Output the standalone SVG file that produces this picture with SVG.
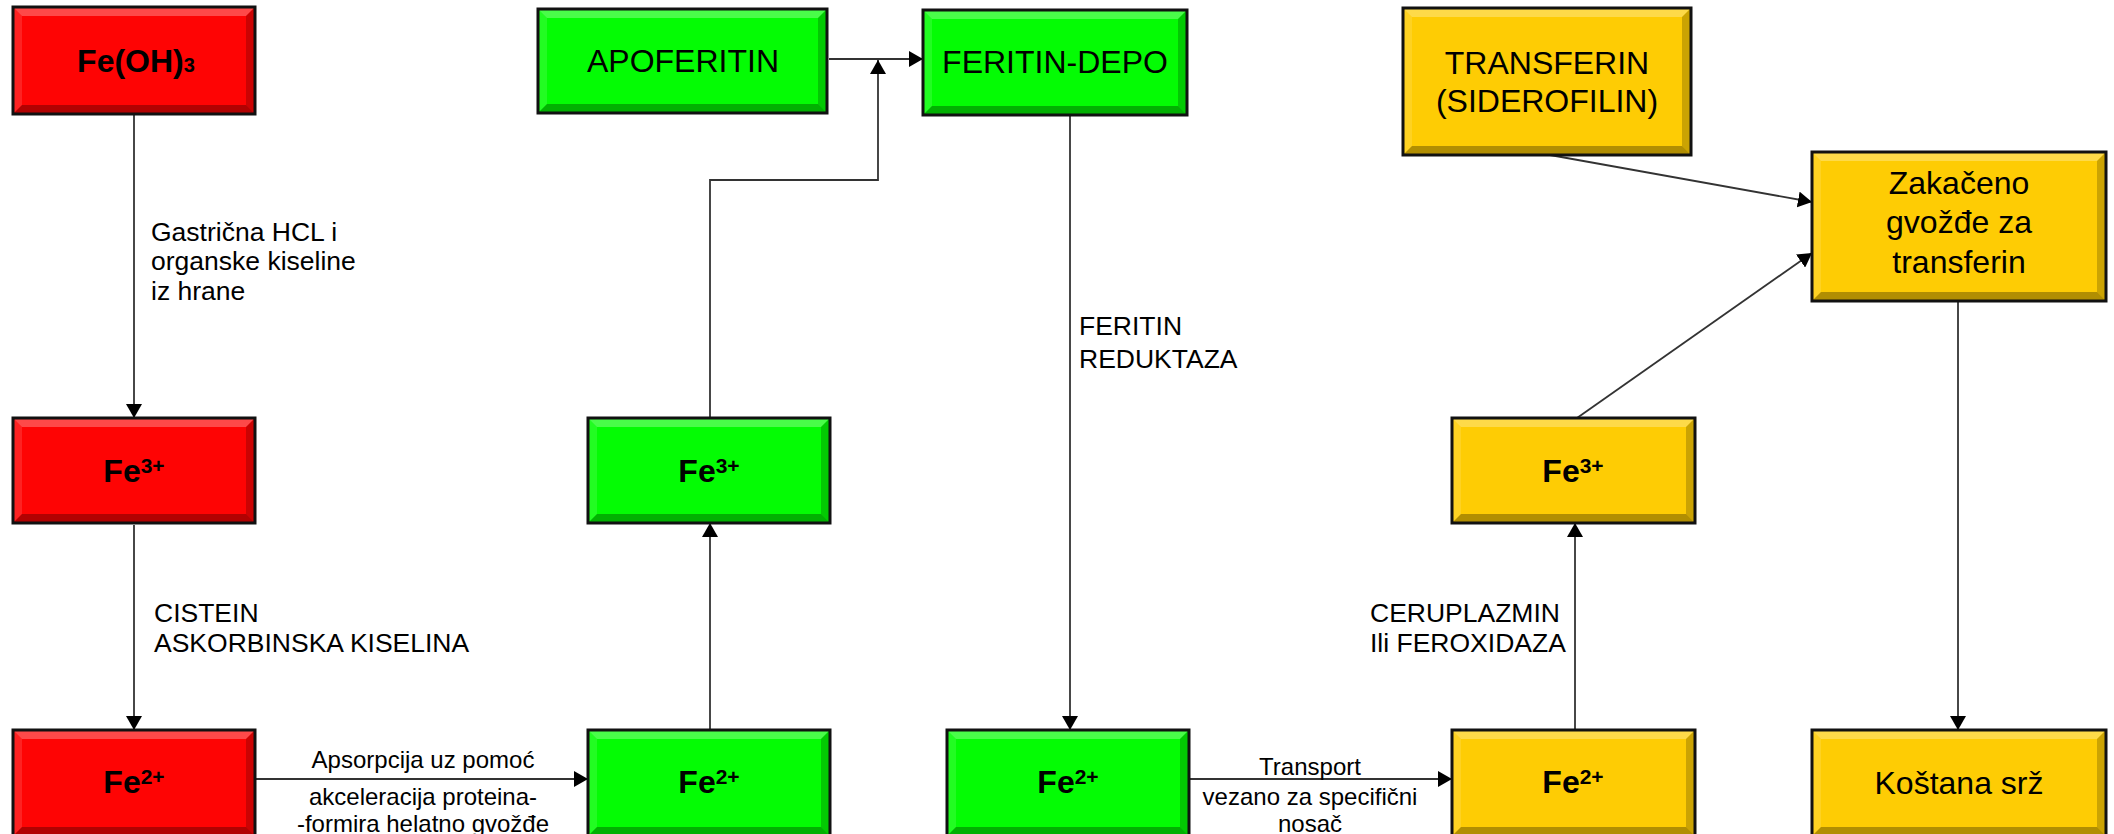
<svg xmlns="http://www.w3.org/2000/svg" width="2114" height="834" viewBox="0 0 2114 834">
<style>
text{font-family:"Liberation Sans",Arial,sans-serif;fill:#000}
.r{fill:#FE0404}.g{fill:#04FC04}.y{fill:#FECC04}
.bt{fill:#fff;fill-opacity:.28}.bl{fill:#fff;fill-opacity:.12}.bb{fill:#000;fill-opacity:.3}.br{fill:#000;fill-opacity:.2}
.edge{fill:none;stroke:#111;stroke-width:3}
.big{font-size:32px;text-anchor:middle}
.fe{font-size:32px;font-weight:bold;text-anchor:middle}
.lab{font-size:26.5px}
.elab{font-size:24px;text-anchor:middle}
.ca{fill:none;stroke:#333;stroke-width:1.8;marker-end:url(#ah)}
</style>
<defs>
<marker id="ah" viewBox="0 0 14 16" markerWidth="14" markerHeight="16" refX="14" refY="8" orient="auto" markerUnits="userSpaceOnUse"><path d="M0,0 L14,8 L0,16 z" fill="#000"/></marker>
</defs>
<rect width="2114" height="834" fill="#fff"/>

<g id="connectors">
<line class="ca" x1="134" y1="114" x2="134" y2="418"/>
<line class="ca" x1="134" y1="525" x2="134" y2="730"/>
<line class="ca" x1="256" y1="779" x2="588" y2="779"/>
<line class="ca" x1="710" y1="730" x2="710" y2="523"/>
<polyline class="ca" points="710,418 710,180 878,180 878,60"/>
<line class="ca" x1="829" y1="59" x2="923" y2="59"/>
<line class="ca" x1="1070" y1="115" x2="1070" y2="730"/>
<line class="ca" x1="1189" y1="779" x2="1452" y2="779"/>
<line class="ca" x1="1575" y1="730" x2="1575" y2="523"/>
<line class="ca" x1="1577" y1="418" x2="1812" y2="253"/>
<line class="ca" x1="1550" y1="155" x2="1812" y2="202"/>
<line class="ca" x1="1958" y1="301" x2="1958" y2="730"/>
</g>

<g id="edge-labels">
<text class="lab"><tspan x="151" y="241">Gastrična HCL i</tspan><tspan x="151" y="270">organske kiseline</tspan><tspan x="151" y="300">iz hrane</tspan></text>
<text class="lab"><tspan x="154" y="622">CISTEIN</tspan><tspan x="154" y="652">ASKORBINSKA KISELINA</tspan></text>
<text class="lab"><tspan x="1079" y="335">FERITIN</tspan><tspan x="1079" y="368">REDUKTAZA</tspan></text>
<text class="lab"><tspan x="1370" y="622">CERUPLAZMIN</tspan><tspan x="1370" y="652">Ili FEROXIDAZA</tspan></text>
<text class="elab"><tspan x="423" y="768">Apsorpcija uz pomoć</tspan><tspan x="423" y="805">akceleracija proteina-</tspan><tspan x="423" y="832">-formira helatno gvožđe</tspan></text>
<text class="elab"><tspan x="1310" y="775">Transport</tspan><tspan x="1310" y="805">vezano za specifični</tspan><tspan x="1310" y="832">nosač</tspan></text>
</g>

<g id="n-feoh3">
<rect class="r" x="13" y="7" width="242" height="107"/>
<polygon class="bt" points="13,7 255,7 246,16 22,16"/>
<polygon class="bl" points="13,7 22,16 22,105 13,114"/>
<polygon class="br" points="255,7 246,16 246,105 255,114"/>
<polygon class="bb" points="13,114 255,114 246,105 22,105"/>
<rect class="edge" x="13" y="7" width="242" height="107"/>
<text class="fe" x="136" y="72" font-size="31">Fe(OH)<tspan font-size="20">3</tspan></text>
</g>

<g id="n-apoferitin">
<rect class="g" x="538" y="9" width="289" height="104"/>
<polygon class="bt" points="538,9 827,9 818,18 547,18"/>
<polygon class="bl" points="538,9 547,18 547,104 538,113"/>
<polygon class="br" points="827,9 818,18 818,104 827,113"/>
<polygon class="bb" points="538,113 827,113 818,104 547,104"/>
<rect class="edge" x="538" y="9" width="289" height="104"/>
<text class="big" x="683" y="72">APOFERITIN</text>
</g>

<g id="n-feritin-depo">
<rect class="g" x="923" y="10" width="264" height="105"/>
<polygon class="bt" points="923,10 1187,10 1178,19 932,19"/>
<polygon class="bl" points="923,10 932,19 932,106 923,115"/>
<polygon class="br" points="1187,10 1178,19 1178,106 1187,115"/>
<polygon class="bb" points="923,115 1187,115 1178,106 932,106"/>
<rect class="edge" x="923" y="10" width="264" height="105"/>
<text class="big" x="1055" y="73">FERITIN-DEPO</text>
</g>

<g id="n-transferin">
<rect class="y" x="1403" y="8" width="288" height="147"/>
<polygon class="bt" points="1403,8 1691,8 1682,17 1412,17"/>
<polygon class="bl" points="1403,8 1412,17 1412,146 1403,155"/>
<polygon class="br" points="1691,8 1682,17 1682,146 1691,155"/>
<polygon class="bb" points="1403,155 1691,155 1682,146 1412,146"/>
<rect class="edge" x="1403" y="8" width="288" height="147"/>
<text class="big"><tspan x="1547" y="74">TRANSFERIN</tspan><tspan x="1547" y="112">(SIDEROFILIN)</tspan></text>
</g>

<g id="n-zakaceno">
<rect class="y" x="1812" y="152" width="294" height="149"/>
<polygon class="bt" points="1812,152 2106,152 2097,161 1821,161"/>
<polygon class="bl" points="1812,152 1821,161 1821,292 1812,301"/>
<polygon class="br" points="2106,152 2097,161 2097,292 2106,301"/>
<polygon class="bb" points="1812,301 2106,301 2097,292 1821,292"/>
<rect class="edge" x="1812" y="152" width="294" height="149"/>
<text class="big"><tspan x="1959" y="194">Zakačeno</tspan><tspan x="1959" y="233">gvožđe za</tspan><tspan x="1959" y="273">transferin</tspan></text>
</g>

<g id="n-fe3-red">
<rect class="r" x="13" y="418" width="242" height="105"/>
<polygon class="bt" points="13,418 255,418 246,427 22,427"/>
<polygon class="bl" points="13,418 22,427 22,514 13,523"/>
<polygon class="br" points="255,418 246,427 246,514 255,523"/>
<polygon class="bb" points="13,523 255,523 246,514 22,514"/>
<rect class="edge" x="13" y="418" width="242" height="105"/>
<text class="fe" x="134" y="482">Fe<tspan font-size="21" dy="-9">3+</tspan></text>
</g>

<g id="n-fe3-green">
<rect class="g" x="588" y="418" width="242" height="105"/>
<polygon class="bt" points="588,418 830,418 821,427 597,427"/>
<polygon class="bl" points="588,418 597,427 597,514 588,523"/>
<polygon class="br" points="830,418 821,427 821,514 830,523"/>
<polygon class="bb" points="588,523 830,523 821,514 597,514"/>
<rect class="edge" x="588" y="418" width="242" height="105"/>
<text class="fe" x="709" y="482">Fe<tspan font-size="21" dy="-9">3+</tspan></text>
</g>

<g id="n-fe3-yellow">
<rect class="y" x="1452" y="418" width="243" height="105"/>
<polygon class="bt" points="1452,418 1695,418 1686,427 1461,427"/>
<polygon class="bl" points="1452,418 1461,427 1461,514 1452,523"/>
<polygon class="br" points="1695,418 1686,427 1686,514 1695,523"/>
<polygon class="bb" points="1452,523 1695,523 1686,514 1461,514"/>
<rect class="edge" x="1452" y="418" width="243" height="105"/>
<text class="fe" x="1573" y="482">Fe<tspan font-size="21" dy="-9">3+</tspan></text>
</g>

<g id="n-fe2-red">
<rect class="r" x="13" y="730" width="242" height="106"/>
<polygon class="bt" points="13,730 255,730 246,739 22,739"/>
<polygon class="bl" points="13,730 22,739 22,827 13,836"/>
<polygon class="br" points="255,730 246,739 246,827 255,836"/>
<polygon class="bb" points="13,836 255,836 246,827 22,827"/>
<rect class="edge" x="13" y="730" width="242" height="106"/>
<text class="fe" x="134" y="793">Fe<tspan font-size="21" dy="-9">2+</tspan></text>
</g>

<g id="n-fe2-green-1">
<rect class="g" x="588" y="730" width="242" height="106"/>
<polygon class="bt" points="588,730 830,730 821,739 597,739"/>
<polygon class="bl" points="588,730 597,739 597,827 588,836"/>
<polygon class="br" points="830,730 821,739 821,827 830,836"/>
<polygon class="bb" points="588,836 830,836 821,827 597,827"/>
<rect class="edge" x="588" y="730" width="242" height="106"/>
<text class="fe" x="709" y="793">Fe<tspan font-size="21" dy="-9">2+</tspan></text>
</g>

<g id="n-fe2-green-2">
<rect class="g" x="947" y="730" width="242" height="106"/>
<polygon class="bt" points="947,730 1189,730 1180,739 956,739"/>
<polygon class="bl" points="947,730 956,739 956,827 947,836"/>
<polygon class="br" points="1189,730 1180,739 1180,827 1189,836"/>
<polygon class="bb" points="947,836 1189,836 1180,827 956,827"/>
<rect class="edge" x="947" y="730" width="242" height="106"/>
<text class="fe" x="1068" y="793">Fe<tspan font-size="21" dy="-9">2+</tspan></text>
</g>

<g id="n-fe2-yellow">
<rect class="y" x="1452" y="730" width="243" height="106"/>
<polygon class="bt" points="1452,730 1695,730 1686,739 1461,739"/>
<polygon class="bl" points="1452,730 1461,739 1461,827 1452,836"/>
<polygon class="br" points="1695,730 1686,739 1686,827 1695,836"/>
<polygon class="bb" points="1452,836 1695,836 1686,827 1461,827"/>
<rect class="edge" x="1452" y="730" width="243" height="106"/>
<text class="fe" x="1573" y="793">Fe<tspan font-size="21" dy="-9">2+</tspan></text>
</g>

<g id="n-kostana-srz">
<rect class="y" x="1812" y="730" width="294" height="106"/>
<polygon class="bt" points="1812,730 2106,730 2097,739 1821,739"/>
<polygon class="bl" points="1812,730 1821,739 1821,827 1812,836"/>
<polygon class="br" points="2106,730 2097,739 2097,827 2106,836"/>
<polygon class="bb" points="1812,836 2106,836 2097,827 1821,827"/>
<rect class="edge" x="1812" y="730" width="294" height="106"/>
<text class="big" x="1959" y="794">Koštana srž</text>
</g>
</svg>
